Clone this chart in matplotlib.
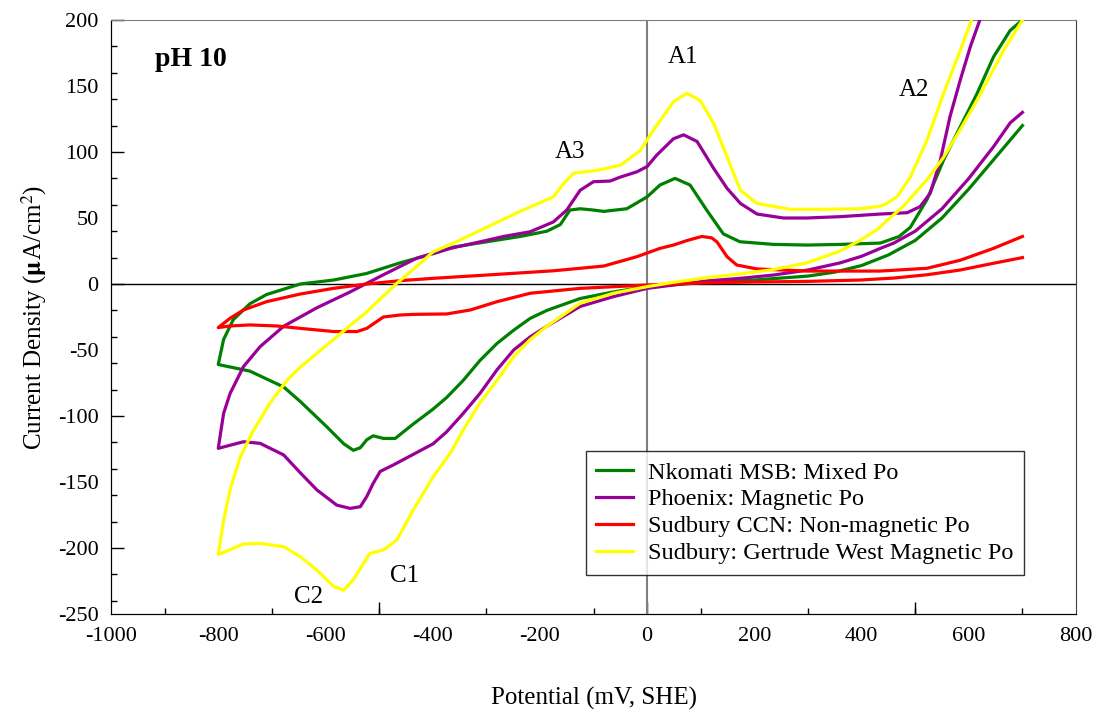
import numpy as np
import matplotlib
matplotlib.use("Agg")
import matplotlib.pyplot as plt
from matplotlib.ticker import MultipleLocator

plt.rcParams['font.family'] = ['Liberation Serif', 'DejaVu Serif']
plt.rcParams['mathtext.fontset'] = 'stix'
plt.rcParams['axes.unicode_minus'] = False

# Datos: (potencial mV, densidad de corriente uA/cm2), recorrido del ciclo
nkomati = np.array([
    (700, 120), (650, 96), (600, 72), (550, 50), (500, 33), (450, 22), (400, 14), (350, 9),
    (300, 6), (200, 3), (100, 1), (0, -2), (-63, -6), (-125, -11), (-187, -20), (-218, -26),
    (-249, -35), (-280, -45), (-312, -58), (-343, -73), (-374, -86), (-400, -95), (-436, -106),
    (-470, -117), (-492, -117), (-511, -115), (-523, -118), (-535, -124), (-548, -126),
    (-566, -121), (-598, -108), (-647, -89), (-678, -78), (-741, -66), (-800, -61),
    (-790, -42), (-772, -27), (-741, -15), (-710, -8), (-647, 0), (-585, 3), (-523, 8),
    (-461, 16), (-399, 23), (-361, 28), (-299, 32), (-237, 36), (-187, 40), (-162, 45),
    (-144, 56), (-125, 57), (-100, 56), (-81, 55), (-38, 57), (0, 66), (24, 75), (52, 80),
    (80, 75), (111, 56), (142, 38), (173, 32), (236, 30), (298, 29.5), (360, 30), (435, 31),
    (470, 36), (491, 43), (522, 64), (553, 94), (584, 119), (615, 144), (646, 172),
    (677, 192), (700, 200),
])

phoenix = np.array([
    (700, 130), (677, 122), (646, 104), (600, 80), (550, 57), (500, 40), (460, 31), (435, 27),
    (400, 21), (360, 16), (300, 10.6), (236, 6.8), (174, 4.3), (111, 2.3), (49, -0.8),
    (0, -3.3), (-63, -9.6), (-125, -17), (-187, -32), (-218, -40), (-249, -50), (-280, -65),
    (-312, -83), (-343, -98), (-374, -112), (-399, -121), (-436, -129), (-473, -137),
    (-498, -142), (-511, -151), (-523, -161), (-535, -168.7), (-554, -170), (-579, -167.5),
    (-616, -156), (-647, -143), (-678, -129.5), (-722, -120.7), (-753, -119.5), (-800, -124.5),
    (-790, -98), (-778, -83), (-753, -62.6), (-722, -47.5), (-678, -32), (-616, -18),
    (-554, -6), (-492, 7), (-430, 19.5), (-367, 27), (-300, 33), (-268, 36), (-218, 39.6),
    (-175, 47), (-150, 56), (-125, 71), (-100, 77.5), (-69, 78), (-50, 81), (-19, 85),
    (0, 89), (18, 97.7), (49, 110), (68, 113), (93, 108), (124, 87.6), (149, 72.5),
    (174, 61), (205, 53), (254, 50), (298, 50), (360, 51), (435, 53), (485, 54),
    (509, 58.6), (528, 68.7), (547, 94), (565, 127), (584, 154.5), (603, 180),
    (621, 200.5), (635, 222),
])

sudbury_ccn = np.array([
    (700, 20), (646, 15.7), (584, 10.6), (522, 7), (460, 4.5), (397, 3), (300, 2), (200, 1.5),
    (100, 0.8), (0, -0.8), (-125, -3.3), (-218, -7), (-280, -13.4), (-330, -19.7),
    (-374, -22.7), (-436, -23), (-461, -23.5), (-492, -25), (-523, -33.6), (-541, -36),
    (-585, -36), (-647, -33.6), (-691, -31.8), (-741, -31), (-778, -31.8), (-800, -33),
    (-778, -26), (-753, -19.7), (-710, -13.4), (-647, -7.6), (-585, -3.3), (-523, 0),
    (-461, 2.5), (-399, 4.3), (-299, 6.8), (-175, 10), (-81, 13.6), (-19, 20.7), (24, 27),
    (49, 29.5), (75, 33), (102, 36), (120, 35), (130, 32), (149, 20.7), (167, 14.4),
    (205, 11.4), (298, 9.8), (435, 9.8), (522, 11.9), (584, 18), (646, 27), (700, 36),
])

gertrude = np.array([
    (700, 200), (665, 177), (615, 139), (584, 117), (553, 96), (522, 79), (478, 59),
    (428, 41), (397, 33), (360, 25), (298, 16), (236, 11), (174, 7.6), (111, 4.8), (49, 1.3),
    (0, -2), (-63, -7), (-125, -14.6), (-187, -32), (-218, -42), (-249, -55), (-280, -73),
    (-312, -90), (-343, -110.6), (-367, -128), (-399, -146), (-436, -171), (-467, -194),
    (-492, -201.5), (-517, -204), (-529, -211.6), (-548, -224), (-566, -232), (-585, -229),
    (-616, -216.7), (-647, -206.6), (-678, -199), (-722, -196.5), (-753, -197), (-800, -205),
    (-790, -179), (-778, -156), (-759, -131), (-734, -110.6), (-703, -90), (-672, -73),
    (-647, -63), (-585, -42), (-523, -21), (-467, 0.5), (-423, 15.7), (-399, 24.5),
    (-361, 31), (-299, 43), (-237, 55), (-175, 66), (-156, 76), (-137, 84), (-94, 86),
    (-50, 90), (-13, 101), (12, 116.7), (49, 138), (74, 144.5), (99, 139), (124, 121.7),
    (149, 96.4), (174, 71), (205, 61), (267, 56.6), (329, 56.6), (397, 57), (435, 59),
    (447, 61), (466, 66), (491, 81), (522, 109), (553, 144.5), (584, 177), (605, 200),
    (620, 220),
])

series = [
    (nkomati, '#008000', 'Nkomati MSB: Mixed Po'),
    (phoenix, '#990099', 'Phoenix: Magnetic Po'),
    (sudbury_ccn, '#ff0000', 'Sudbury CCN: Non-magnetic Po'),
    (gertrude, '#ffff00', 'Sudbury: Gertrude West Magnetic Po'),
]

peak_labels = ['A1', 'A2', 'A3', 'C1', 'C2']
peak_pos = [(67, 172), (498, 147), (-144, 100), (-453, -221), (-632, -237)]

fig = plt.figure(figsize=(10.96, 7.11), dpi=100)
ax = fig.add_axes([0.1013, 0.1364, 0.8805, 0.8355])

ax.axhline(0, color='black', lw=1.0, zorder=1)
ax.axvline(0, color='#7f7f7f', lw=1.5, zorder=1)

for datos, color, nombre in series:
    ax.plot(datos[:, 0], datos[:, 1], color=color, lw=2.3, label=nombre, zorder=3,
            solid_joinstyle='round')

ax.set_xlim(-1000, 800)
ax.set_ylim(-250, 200)

# ticks: etiquetas cada 200 / 50, marcas cada 100 / 20, marcas largas aparte
ax.set_xticks(np.arange(-1000, 801, 200))
ax.set_yticks(np.arange(-250, 201, 50))
ax.xaxis.set_minor_locator(MultipleLocator(100))
ax.yaxis.set_minor_locator(MultipleLocator(20))
ax.tick_params(which='major', length=0, labelsize=16, pad=9)
ax.tick_params(which='minor', direction='in', length=4, width=1)
ax.tick_params(axis='x', which='minor', top=False)
ax.tick_params(axis='y', which='minor', right=False)

secx = ax.secondary_xaxis('bottom')
secx.set_xticks([-500, 0, 500])
secx.tick_params(direction='in', length=9, width=1, labelbottom=False)
secy = ax.secondary_yaxis('left')
secy.set_yticks([-200, -100, 0, 100, 200])
secy.tick_params(direction='in', length=9, width=1, labelleft=False)

ax.spines['top'].set_color('#7f7f7f')
ax.spines['right'].set_color('#404040')

ax.set_xlabel('Potential (mV, SHE)', fontsize=18, labelpad=30)
ax.set_ylabel(r'Current Density ($\mathbf{\mu}$A/cm$^2$)', fontsize=18, labelpad=6)

ax.text(-918, 170, 'pH 10', fontsize=20, fontweight='bold', ha='left', va='center')
for lab, (px, py) in zip(peak_labels, peak_pos):
    ax.text(px, py, lab, fontsize=18, ha='center', va='center')

leg = ax.legend(loc='lower right', bbox_to_anchor=(0.9585, 0.045), fontsize=17.5,
                frameon=True, fancybox=False, handlelength=1.5, borderpad=0.45,
                labelspacing=0.2, handletextpad=0.6)
leg.get_frame().set_edgecolor('black')
leg.get_frame().set_linewidth(1.0)

fig.savefig('out.png', dpi=100)
